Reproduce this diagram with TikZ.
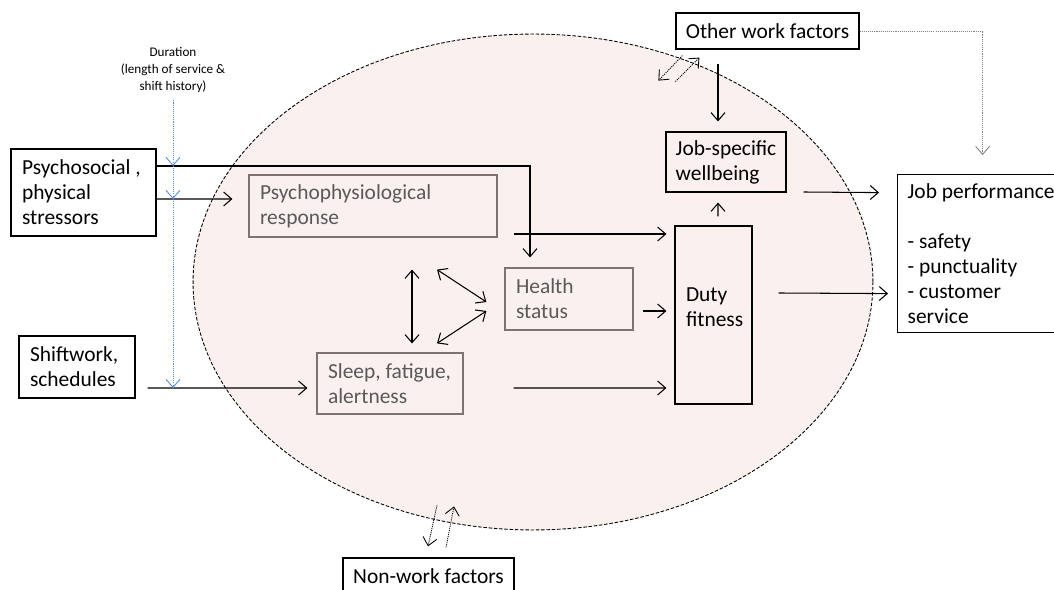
\documentclass[tikz,border=0pt]{standalone}
\usepackage{fontspec}
\setmainfont{Carlito}
\usetikzlibrary{arrows.meta,calc}
\definecolor{ctxfill}{RGB}{250,241,239}
\definecolor{softgray}{RGB}{89,89,89}
\definecolor{softline}{RGB}{125,115,115}
\definecolor{durblue}{RGB}{84,141,212}

\begin{document}
\begin{tikzpicture}[
  x=0.02cm,y=-0.02cm,
  font=\fontsize{12.2}{14.2}\selectfont,
  box/.style={draw,inner xsep=0.22cm,inner ysep=0pt,align=flush left,line width=0.7pt},
  softbox/.style={box,draw=softline,text=softgray},
  arrow/.style={-{Straight Barb[length=1.6mm,width=2.8mm]},line width=0.6pt},
  twoway/.style={{Straight Barb[length=1.6mm,width=2.8mm]}-{Straight Barb[length=1.6mm,width=2.8mm]},line width=0.6pt},
  dotarrow/.style={arrow,line width=0.5pt,dash pattern=on 0.6pt off 0.6pt},
  durarrow/.style={arrow,draw=durblue,line width=0.5pt,dash pattern=on 0.6pt off 0.6pt}
]
\useasboundingbox (0,0) rectangle (1054,590);
\fill[ctxfill] (533,282) ellipse [x radius=6.8cm,y radius=4.96cm];
\draw[line width=0.5pt,dash pattern=on 2pt off 1pt] (533,282) ellipse [x radius=6.8cm,y radius=4.96cm];

\node[box,text width=2.46cm,minimum height=1.74cm] (stress) at (83.5,192.5) {Psychosocial ,\\physical\\stressors};
\node[box,text width=1.88cm,minimum height=1.24cm] (shift) at (77,367) {Shiftwork,\\schedules};
\node[softbox,text width=4.52cm,minimum height=1.24cm] (psyresp) at (373,206) {Psychophysiological\\response};
\node[softbox,text width=2.12cm,minimum height=1.24cm] (health) at (569,299) {Health\\status};
\node[softbox,text width=2.48cm,minimum height=1.22cm] (sleep) at (390,383.5) {Sleep, fatigue,\\alertness};
\node[box,text width=1.10cm,minimum height=3.56cm] (duty) at (713.5,315) {Duty\\fitness\\[-5pt]\mbox{}};
\node[box,inner xsep=0pt,minimum width=2.4cm,minimum height=1.2cm] (jobwell) at (726,162) {Job-specific\\wellbeing};
\node[box,inner xsep=0pt,minimum width=3.66cm,minimum height=0.72cm] (other) at (767.5,31) {Other work factors};
\node[box,inner xsep=0pt,minimum width=3.42cm,minimum height=0.72cm] (nonwork) at (428.5,576) {Non-work factors};
\node[box,anchor=north west,inner xsep=0.2cm,text width=3.1cm,minimum height=3.16cm] (jobperf) at (897,174) {Job performance\\[14.2pt]- safety\\- punctuality\\- customer\\service};
\node[font=\fontsize{7.5}{9.9}\selectfont,align=center,inner sep=1pt] (dur) at (173,70) {Duration\\(length of service \&\\shift history)};

\coordinate (stresshi) at ($(stress.east)+(0,-26.5)$);
\coordinate (stresslo) at ($(stress.east)+(0,6.5)$);
\coordinate (shiftout) at ($(shift.east)+(12,21)$);

\draw[arrow] (stresshi) -| ($(health.north)+(-39,-10)$);
\draw[arrow] (stresslo) -- ($(psyresp.west)+(-16,-7)$);
\draw[arrow] (shiftout) -- ($(sleep.west)+(-9,4.5)$);
\draw[durarrow,shorten <=3pt] (dur.south) -- (dur.south |- stresshi);
\draw[durarrow] (dur.south |- stresshi) -- (dur.south |- stresslo);
\draw[durarrow] (dur.south |- stresslo) -- (dur.south |- shiftout);
\draw[arrow] ($(psyresp.east)+(16,28)$) -- ($(duty.west)+(-8,-81)$);
\draw[arrow] ($(health.east)+(9,12)$) -- ($(duty.west)+(-8,-4)$);
\draw[arrow] ($(sleep.east)+(50,4.5)$) -- ($(duty.west)+(-8,73)$);
\draw[twoway] ($(psyresp.south)+(39,32)$) -- ($(sleep.north)+(22,-9)$);
\draw[twoway] ($(psyresp.south)+(64,32)$) -- ($(health.west)+(-18,3)$);
\draw[twoway] ($(sleep.north)+(47,-9)$) -- ($(health.west)+(-18,12)$);
\draw[arrow] ($(duty.north)+(4.5,-9)$) -- ($(jobwell.south)+(-8,10)$);
\draw[arrow] ($(other.south)+(-49.5,14)$) -- ($(jobwell.north)+(-8,-10)$);
\draw[arrow] ($(jobwell.east)+(17,30)$) -- ($(jobperf.west)+(-18,-61)$);
\draw[arrow] ($(duty.east)+(26,-22)$) -- ($(jobperf.west)+(-9,40)$);
\draw[dotarrow,draw=gray] (other.east) -| ($(jobperf.north)+(-2.5,-19)$);
\draw[dotarrow] ($(other.south west)+(7,6)$) -- ($(other.south west)+(-17,31)$);
\draw[dotarrow] ($(other.south west)+(0,32)$) -- ($(other.south west)+(24,8)$);
\draw[dotarrow] ($(nonwork.north)+(8.5,-52)$) -- ($(nonwork.north)+(-0.5,-11)$);
\draw[dotarrow] ($(nonwork.north)+(17.5,-10)$) -- ($(nonwork.north)+(25.5,-51)$);
\end{tikzpicture}
\end{document}
